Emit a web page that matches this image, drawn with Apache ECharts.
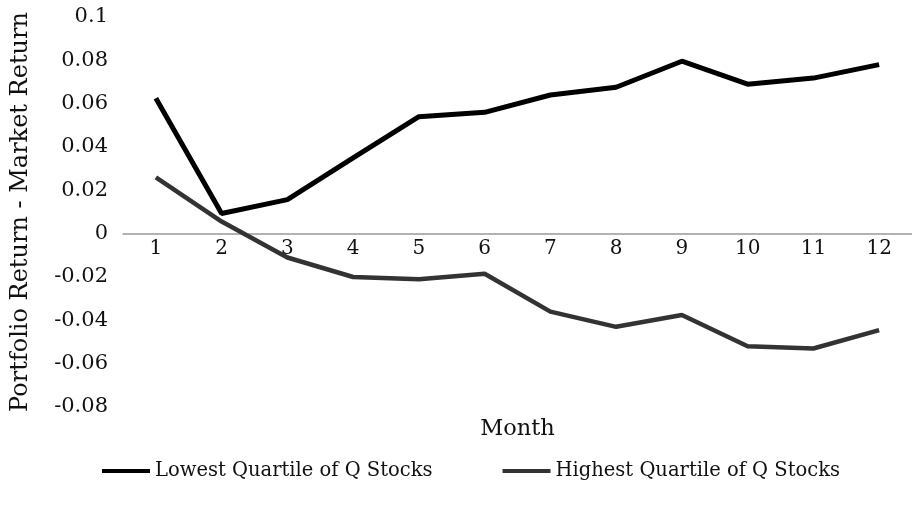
<!DOCTYPE html>
<html>
<head>
<meta charset="utf-8">
<script src="https://cdn.jsdelivr.net/npm/echarts@6/dist/echarts.min.js"></script>
<style>
  html, body { margin: 0; padding: 0; background: #fff; }
  #chart { width: 912px; height: 514px; }
</style>
</head>
<body>
<div id="chart"></div>
<script>
var months = ['1','2','3','4','5','6','7','8','9','10','11','12'];
var lowestQ = [0.0625, 0.0093, 0.0157, 0.035, 0.054, 0.056, 0.064, 0.0676, 0.0796, 0.069, 0.0718, 0.078];
var highestQ = [0.026, 0.0056, -0.011, -0.020, -0.021, -0.0185, -0.036, -0.043, -0.0375, -0.052, -0.053, -0.0445];

var font = 'DejaVu Serif';

var chart = echarts.init(document.getElementById('chart'));

// x axis sits on the zero line: grid bottom is 407, zero is at ~233.7
chart.setOption({
	animation: false,
	backgroundColor: '#fff',
	grid: {
		left: 123,
		right: 0,
		top: 17,
		bottom: 107,
		containLabel: false,
		outerBoundsMode: 'none'
	},
	legend: {
		left: 97,
		top: 456,
		icon: 'rect',
		itemWidth: 48,
		itemHeight: 4,
		itemGap: 70,
		textStyle: { fontFamily: font, fontSize: 19.5, color: '#111' },
		data: ['Lowest Quartile of Q Stocks', 'Highest Quartile of Q Stocks']
	},
	xAxis: {
		type: 'category',
		data: months,
		boundaryGap: true,
		offset: -173.3,
		name: 'Month',
		nameLocation: 'middle',
		nameGap: 184,
		nameTextStyle: { fontFamily: font, fontSize: 22.5, color: '#111' },
		axisLine: { onZero: false, lineStyle: { color: '#999', width: 1.5 } },
		axisTick: { show: false },
		axisLabel: { fontFamily: font, fontSize: 20, color: '#111', margin: 5 }
	},
	yAxis: {
		type: 'value',
		min: -0.08,
		max: 0.1,
		interval: 0.02,
		name: 'Portfolio Return - Market Return',
		nameLocation: 'middle',
		nameGap: 90,
		nameTextStyle: { fontFamily: font, fontSize: 24, color: '#111' },
		axisLine: { show: false },
		axisTick: { show: false },
		splitLine: { show: false },
		axisLabel: {
			fontFamily: font, fontSize: 21, color: '#111', margin: 15,
			formatter: function(v){ return String(Math.round(v*100)/100); }
		}
	},
	series: [
		{
			name: 'Lowest Quartile of Q Stocks',
			type: 'line',
			data: lowestQ,
			symbol: 'none',
			color: '#000',
			lineStyle: { color: '#000', width: 5 }
		},
		{
			name: 'Highest Quartile of Q Stocks',
			type: 'line',
			data: highestQ,
			symbol: 'none',
			color: '#333',
			lineStyle: { color: '#333', width: 4.5 }
		}
	]
});
</script>
</body>
</html>
